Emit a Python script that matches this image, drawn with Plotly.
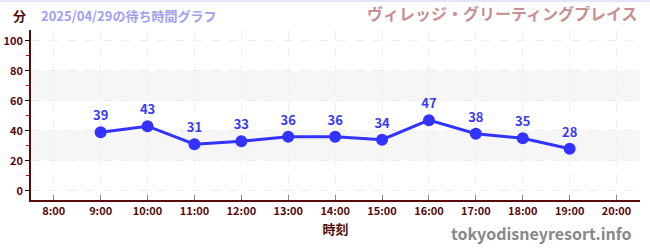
import plotly.graph_objects as go

hours = [9, 10, 11, 12, 13, 14, 15, 16, 17, 18, 19]
waits = [39, 43, 31, 33, 36, 36, 34, 47, 38, 35, 28]
tick_hours = list(range(8, 21))
tick_labels = [f"{h}:00" for h in tick_hours]
y_ticks = [0, 20, 40, 60, 80, 100]
bands = [(20, 40), (60, 80)]

FONT = "Noto Sans CJK JP"
DARK = "#5a0a0a"

fig = go.Figure()
fig.add_trace(go.Scatter(
    x=hours, y=waits, mode="lines+markers+text",
    text=[str(v) for v in waits], textposition="top center",
    textfont=dict(family=FONT, size=13, color="#3a3af0", weight="bold"),
    line=dict(color="#3333ff", width=3),
    marker=dict(color="#3333ff", size=12),
    cliponaxis=False, hoverinfo="skip", showlegend=False,
))

shapes = []
for y0, y1 in bands:
    shapes.append(dict(type="rect", xref="paper", yref="y", x0=0, x1=1, y0=y0, y1=y1,
                       fillcolor="#f6f6f6", line=dict(width=0), layer="below"))
shapes.append(dict(type="line", xref="paper", yref="paper", x0=-0.1, x1=1.1, y0=1.17, y1=1.17,
                   line=dict(color="#e4e4fa", width=2)))
fig.update_layout(
    width=650, height=250,
    margin=dict(l=31, r=10, t=30, b=50),
    paper_bgcolor="white", plot_bgcolor="white",
    font=dict(family=FONT, color=DARK),
    shapes=shapes,
    xaxis=dict(
        range=[7.515, 20.5], tickvals=tick_hours, ticktext=tick_labels,
        tickfont=dict(size=11, color=DARK, weight="bold"),
        showline=True, linecolor=DARK, linewidth=1.5,
        ticks="inside", ticklen=5, tickcolor="#888888",
        showgrid=True, gridcolor="#eeeeee", griddash="dash", zeroline=False,
        automargin=False,
        title=dict(text="時刻", font=dict(size=13, color=DARK, weight="bold"), standoff=8),
    ),
    yaxis=dict(
        range=[-6.2, 107.1], tickvals=y_ticks,
        tickfont=dict(size=11, color=DARK, weight="bold"),
        showline=True, linecolor=DARK, linewidth=1.5,
        ticks="outside", ticklen=4, tickcolor="black",
        minor=dict(tickvals=[10, 30, 50, 70, 90], ticks="outside", ticklen=3, tickcolor="#cc0000", showgrid=False),
        showgrid=True, gridcolor="#eeeeee", griddash="dash", zeroline=False,
        automargin=False,
    ),
    annotations=[
        dict(text="分", xref="paper", yref="paper", x=-0.005, y=1.088, xanchor="right", yanchor="middle",
             showarrow=False, font=dict(size=13, color=DARK, weight="bold")),
        dict(text="2025/04/29の待ち時間グラフ", xref="paper", yref="paper", x=0.013, y=1.088,
             xanchor="left", yanchor="middle", showarrow=False,
             font=dict(size=13, color="#a0a0f0", weight="bold")),
        dict(text="ヴィレッジ・グリーティングプレイス", xref="paper", yref="paper", x=1.0, y=1.1,
             xanchor="right", yanchor="middle", showarrow=False,
             font=dict(size=16, color="#c89090", weight="bold")),
        dict(text="tokyodisneyresort.info", xref="paper", yref="paper", x=0.99, y=-0.194,
             xanchor="right", yanchor="middle", showarrow=False,
             font=dict(size=16, color="#888888", weight="bold")),
    ],
)
fig.write_html("out.html")
